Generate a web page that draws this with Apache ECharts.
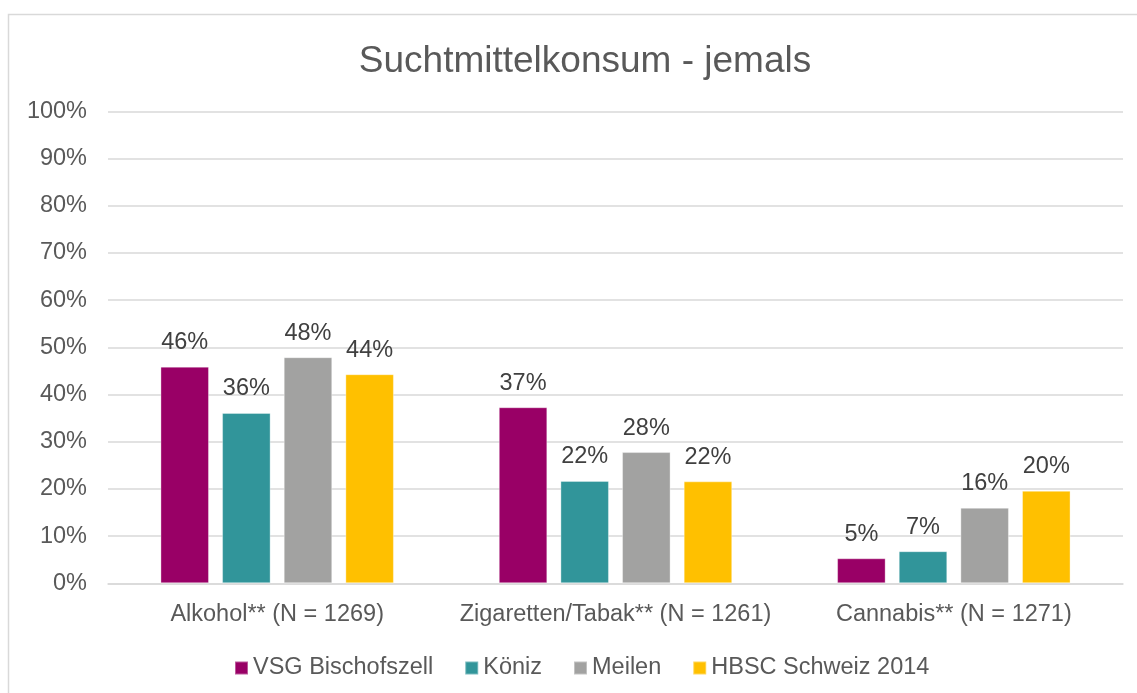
<!DOCTYPE html>
<html>
<head>
<meta charset="utf-8">
<script src="https://cdn.jsdelivr.net/npm/echarts@6/dist/echarts.min.js"></script>
<style>
  html, body { margin: 0; padding: 0; background: #fff; }
  #chart { width: 1137px; height: 693px; }
</style>
</head>
<body>
<div id="chart"></div>
<script>
const categories = ['Alkohol** (N = 1269)', 'Zigaretten/Tabak** (N = 1261)', 'Cannabis** (N = 1271)'];
const seriesNames = ['VSG Bischofszell', 'Köniz', 'Meilen', 'HBSC Schweiz 2014'];
const vsg = [45.9, 37.3, 5.3];
const koeniz = [36.1, 21.7, 6.8];
const meilen = [47.9, 27.8, 16.0];
const hbsc = [44.3, 21.6, 19.6];
const colors = ['#990066', '#31959A', '#A2A2A1', '#FFC000'];
const yTicks = [0, 10, 20, 30, 40, 50, 60, 70, 80, 90, 100];

const font = "'Liberation Sans', Arial, sans-serif";
const chart = echarts.init(document.getElementById('chart'), null, { renderer: 'canvas' });

const values = [vsg, koeniz, meilen, hbsc];
const series = seriesNames.map((name, i) => ({
    name,
    type: 'bar',
    data: values[i],
    barGap: '27%',
    barCategoryGap: '31%',
    itemStyle: { color: colors[i], borderColor: 'rgba(255,255,255,0.35)', borderWidth: 1 },
    label: {
        show: true,
        position: 'top',
        distance: 12,
        fontFamily: font,
        fontSize: 23.5,
        color: '#404040',
        formatter: p => Math.round(p.value) + '%'
    }
}));

chart.setOption({
    animation: false,
    color: colors,
    title: {
        text: 'Suchtmittelkonsum - jemals',
        left: 580,
        textAlign: 'center',
        top: 38,
        textStyle: { fontFamily: font, fontSize: 37, fontWeight: 'normal', color: '#595959' }
    },
    graphic: [{
        type: 'rect',
        shape: { x: 8.5, y: 14.5, width: 1140, height: 700 },
        style: { fill: 'none', stroke: '#d9d9d9', lineWidth: 1.5 },
        silent: true
    }],
    legend: {
        data: seriesNames,
        left: 229,
        top: 651,
        itemWidth: 13,
        itemHeight: 13,
        itemGap: 31,
        icon: 'rect',
        textStyle: { fontFamily: font, fontSize: 23.5, color: '#595959' }
    },
    grid: { left: 108, right: 14, top: 111.3, bottom: 109.7 },
    xAxis: {
        type: 'category',
        data: categories,
        axisTick: { show: false },
        axisLine: { lineStyle: { color: '#d9d9d9', width: 1.5 } },
        axisLabel: { fontFamily: font, fontSize: 23.5, color: '#595959', margin: 19, interval: 0 }
    },
    yAxis: {
        type: 'value',
        min: yTicks[0],
        max: yTicks[yTicks.length - 1],
        interval: 10,
        axisLine: { show: false },
        axisTick: { show: false },
        splitLine: { lineStyle: { color: '#d9d9d9', width: 1.5 } },
        axisLabel: { fontFamily: font, fontSize: 23.5, color: '#595959', margin: 21, formatter: v => v + '%' }
    },
    series
});
</script>
</body>
</html>
